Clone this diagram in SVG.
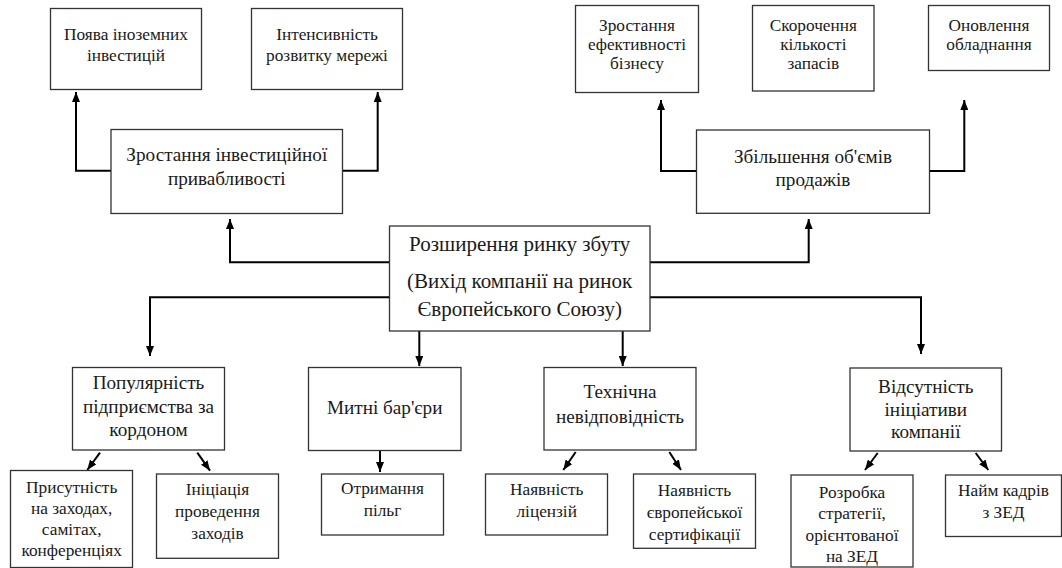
<svg xmlns="http://www.w3.org/2000/svg" width="1062" height="568" viewBox="0 0 1062 568" font-family="'Liberation Serif', 'DejaVu Serif', serif">
<style>
.box{fill:#fff;stroke:#333;stroke-width:1.3}
text{font-family:'Liberation Serif','DejaVu Serif',serif;fill:#1a1a1a;text-anchor:middle}
.s{font-size:17.3px}
.m{font-size:19.2px}
.c{font-size:21px}
.con{fill:none;stroke:#000;stroke-width:2}
</style>
<defs>
<marker id="ah" markerUnits="userSpaceOnUse" markerWidth="10" markerHeight="8" refX="10" refY="4" orient="auto">
<path d="M0,0 L10,4 L0,8 z" fill="#000"/>
</marker>
</defs>
<rect width="1062" height="568" fill="#fff"/>
<g id="connectors">
<path class="con" marker-end="url(#ah)" d="M389,262.3 H230 V219"/>
<path class="con" marker-end="url(#ah)" d="M650,262.3 H808.7 V219"/>
<path class="con" marker-end="url(#ah)" d="M111,170.7 H76 V92"/>
<path class="con" marker-end="url(#ah)" d="M342.7,170.7 H377.7 V92"/>
<path class="con" marker-end="url(#ah)" d="M696.7,171 H661 V100"/>
<path class="con" marker-end="url(#ah)" d="M930,171 H964.3 V100"/>
<path class="con" marker-end="url(#ah)" d="M389,297.3 H150 V356"/>
<path class="con" marker-end="url(#ah)" d="M650,297.3 H921 V354"/>
<path class="con" marker-end="url(#ah)" d="M419.3,331 V366"/>
<path class="con" marker-end="url(#ah)" d="M622.7,331 V366"/>
<path class="con" marker-end="url(#ah)" d="M380,450.5 V472"/>
<path class="con" marker-end="url(#ah)" d="M100,452.7 L87.3,470"/>
<path class="con" marker-end="url(#ah)" d="M197.3,452.7 L210,470.7"/>
<path class="con" marker-end="url(#ah)" d="M575.7,452 L563.3,470"/>
<path class="con" marker-end="url(#ah)" d="M669.3,452 L681,470"/>
<path class="con" marker-end="url(#ah)" d="M877.7,453 L865,470"/>
<path class="con" marker-end="url(#ah)" d="M975.7,453 L988.3,470"/>
</g>
<g id="n-poyava"><rect class="box" x="50.5" y="8.5" width="151" height="81"/>
<text class="s" x="126" y="40">Поява іноземних</text><text class="s" x="126" y="61">інвестицій</text></g>
<g id="n-intens"><rect class="box" x="251.5" y="8.5" width="151" height="81"/>
<text class="s" x="327" y="40">Інтенсивність</text><text class="s" x="327" y="61">розвитку мережі</text></g>
<g id="n-inv"><rect class="box" x="111" y="129.5" width="231.5" height="84"/>
<text class="m" x="226.8" y="161">Зростання інвестиційної</text><text class="m" x="226.8" y="185">привабливості</text></g>
<g id="n-efekt"><rect class="box" x="575.5" y="5.5" width="123" height="87"/>
<text class="s" x="637" y="31">Зростання</text><text class="s" x="637" y="50">ефективності</text><text class="s" x="637" y="68.5">бізнесу</text></g>
<g id="n-skor"><rect class="box" x="752.5" y="5.5" width="121.5" height="85.5"/>
<text class="s" x="813.3" y="31">Скорочення</text><text class="s" x="813.3" y="50">кількості</text><text class="s" x="813.3" y="68.5">запасів</text></g>
<g id="n-onovl"><rect class="box" x="928.5" y="5.5" width="121" height="65"/>
<text class="s" x="989" y="31">Оновлення</text><text class="s" x="989" y="50">обладнання</text></g>
<g id="n-sales"><rect class="box" x="696.5" y="130" width="233" height="83.3"/>
<text class="m" x="813" y="163">Збільшення об'ємів</text><text class="m" x="813" y="186">продажів</text></g>
<g id="n-central"><rect class="box" x="389.5" y="226" width="260.5" height="105"/>
<text class="c" x="519.7" y="251">Розширення ринку збуту</text><text class="c" x="519.7" y="288">(Вихід компанії на ринок</text><text class="c" x="519.7" y="316">Європейського Союзу)</text></g>
<g id="n-pop"><rect class="box" x="72.5" y="367.5" width="152" height="82.5"/>
<text class="m" x="148.5" y="389">Популярність</text><text class="m" x="148.5" y="413">підприємства за</text><text class="m" x="148.5" y="436">кордоном</text></g>
<g id="n-mitni"><rect class="box" x="308.5" y="367.5" width="152.5" height="83"/>
<text class="m" x="384.7" y="414">Митні бар'єри</text></g>
<g id="n-tech"><rect class="box" x="544" y="367.5" width="152" height="82.5"/>
<text class="m" x="620" y="398">Технічна</text><text class="m" x="620" y="423">невідповідність</text></g>
<g id="n-vid"><rect class="box" x="850" y="368" width="151.5" height="83"/>
<text class="m" x="925.8" y="393">Відсутність</text><text class="m" x="925.8" y="416">ініціативи</text><text class="m" x="925.8" y="438">компанії</text></g>
<g id="n-prys"><rect class="box" x="10.5" y="470.5" width="122" height="97"/>
<text class="s" x="71.7" y="493">Присутність</text><text class="s" x="71.7" y="514">на заходах,</text><text class="s" x="71.7" y="535">самітах,</text><text class="s" x="71.7" y="556">конференціях</text></g>
<g id="n-inic"><rect class="box" x="156.5" y="474" width="122" height="84.3"/>
<text class="s" x="217.5" y="495">Ініціація</text><text class="s" x="217.5" y="517">проведення</text><text class="s" x="217.5" y="539">заходів</text></g>
<g id="n-otr"><rect class="box" x="321.5" y="474" width="122" height="61"/>
<text class="s" x="382.5" y="494">Отримання</text><text class="s" x="382.5" y="516">пільг</text></g>
<g id="n-lic"><rect class="box" x="485.5" y="474" width="122" height="61"/>
<text class="s" x="546.7" y="495">Наявність</text><text class="s" x="546.7" y="517">ліцензій</text></g>
<g id="n-evr"><rect class="box" x="633.5" y="474" width="122" height="74.3"/>
<text class="s" x="694.5" y="496">Наявність</text><text class="s" x="694.5" y="518">європейської</text><text class="s" x="694.5" y="540">сертифікації</text></g>
<g id="n-rozr"><rect class="box" x="791" y="475" width="122" height="92"/>
<text class="s" x="852" y="498">Розробка</text><text class="s" x="852" y="519">стратегії,</text><text class="s" x="852" y="541">орієнтованої</text><text class="s" x="852" y="562">на ЗЕД</text></g>
<g id="n-naym"><rect class="box" x="945.5" y="475" width="116" height="61.5"/>
<text class="s" x="1003.5" y="496">Найм кадрів</text><text class="s" x="1003.5" y="518">з ЗЕД</text></g>
</svg>
